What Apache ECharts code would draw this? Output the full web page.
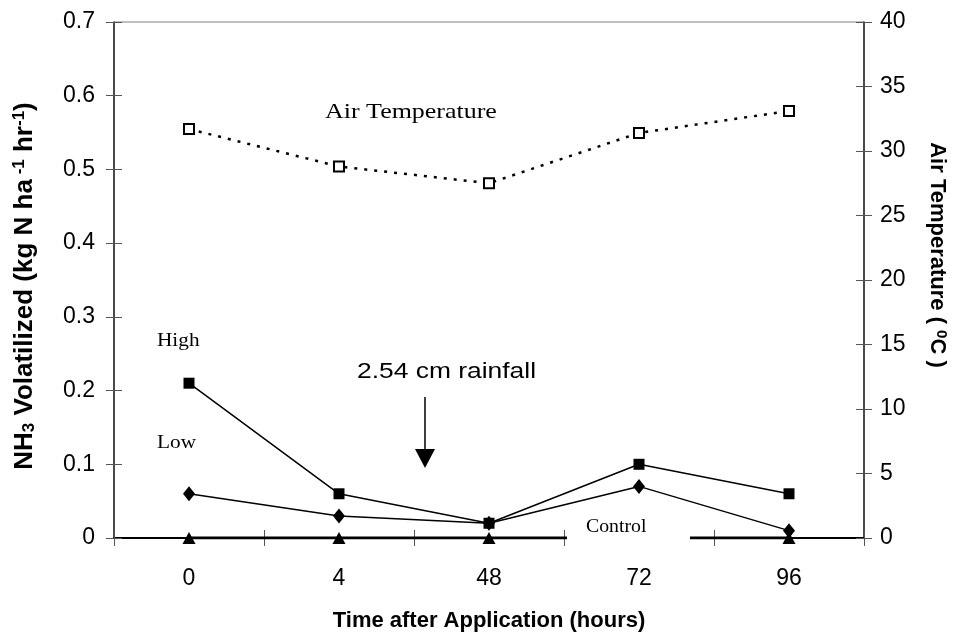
<!DOCTYPE html>
<html>
<head>
<meta charset="utf-8">
<script src="https://cdn.jsdelivr.net/npm/echarts@6/dist/echarts.min.js"></script>
<style>html,body{margin:0;padding:0;background:#fff;}#c{width:958px;height:641px;}</style>
</head>
<body>
<div id="c"></div>
<script>
const categories = ['0', '4', '48', '72', '96'];
const highValues = [0.21, 0.06, 0.02, 0.10, 0.06];
const lowValues = [0.06, 0.03, 0.02, 0.07, 0.01];
const controlValues = [0, 0, 0, 0, 0];
const airTempValues = [31.7, 28.8, 27.5, 31.4, 33.1];

const chart = echarts.init(document.getElementById('c'));
const sans = 'Liberation Sans, Arial, sans-serif';
const serif = 'Liberation Serif, Times New Roman, serif';
const grid = {left: 114, right: 94, top: 22, bottom: 103};

const option = {
  animation: false,
  backgroundColor: '#fff',
  grid: Object.assign({show: true, borderColor: '#808080', borderWidth: 1}, grid),
  xAxis: [{
    type: 'category', data: categories, boundaryGap: true, position: 'bottom',
    axisLine: {show: true, lineStyle: {color: '#000', width: 2}},
    axisTick: {show: true, length: 8, lineStyle: {color: '#555', width: 1}},
    axisLabel: {fontFamily: sans, fontSize: 23, color: '#000', margin: 29},
    name: 'Time after Application (hours)', nameLocation: 'middle', nameGap: 72,
    nameTextStyle: {fontFamily: sans, fontSize: 22, fontWeight: 'bold', color: '#000'},
    splitLine: {show: false}
  }, {
    type: 'category', data: categories, boundaryGap: true, position: 'bottom',
    axisLine: {show: false},
    axisTick: {show: true, inside: true, length: 8, lineStyle: {color: '#555', width: 1}},
    axisLabel: {show: false}, splitLine: {show: false}
  }],
  yAxis: [{
    type: 'value', min: 0, max: 0.7, interval: 0.1, position: 'left',
    axisLine: {show: true, lineStyle: {color: '#222', width: 1.5}},
    axisTick: {show: true, length: 8, lineStyle: {color: '#555', width: 1}},
    axisLabel: {fontFamily: sans, fontSize: 23, color: '#000', margin: 19},
    splitLine: {show: false},
    name: '{b|NH}{s|3}{b| Volatilized (kg N ha}{p| -1}{b| hr}{p|-1}{b|)}',
    nameLocation: 'middle', nameGap: 76, nameRotate: 90,
    nameTextStyle: {
      padding: [0, 12, 0, 0],
      rich: {
        b: {fontFamily: sans, fontSize: 26, fontWeight: 'bold', color: '#000'},
        s: {fontFamily: sans, fontSize: 17, fontWeight: 'bold', color: '#000', verticalAlign: 'bottom', padding: [10,0,0,0]},
        p: {fontFamily: sans, fontSize: 17, fontWeight: 'bold', color: '#000', verticalAlign: 'top', padding: [0,0,10,0]}
      }
    }
  }, {
    type: 'value', min: 0, max: 40, interval: 5, position: 'right',
    axisLine: {show: true, lineStyle: {color: '#222', width: 1.5}},
    axisTick: {show: true, length: 8, lineStyle: {color: '#555', width: 1}},
    axisLabel: {fontFamily: sans, fontSize: 23, color: '#000', margin: 16},
    splitLine: {show: false},
    name: '{b|Air Temperature ( }{p|0}{b|C )}',
    nameLocation: 'middle', nameGap: 62, nameRotate: -90,
    nameTextStyle: {
      padding: [0, 50, 0, 0],
      rich: {
        b: {fontFamily: sans, fontSize: 22, fontWeight: 'bold', color: '#000'},
        p: {fontFamily: sans, fontSize: 15, fontWeight: 'bold', color: '#000', verticalAlign: 'top', padding: [0,0,8,0]}
      }
    }
  }, {
    type: 'value', min: 0, max: 0.7, interval: 0.1, position: 'left',
    axisLine: {show: false},
    axisTick: {show: true, inside: true, length: 8, lineStyle: {color: '#555', width: 1}},
    axisLabel: {show: false}, splitLine: {show: false}
  }, {
    type: 'value', min: 0, max: 40, interval: 5, position: 'right',
    axisLine: {show: false},
    axisTick: {show: true, inside: true, length: 8, lineStyle: {color: '#555', width: 1}},
    axisLabel: {show: false}, splitLine: {show: false}
  }],
  series: [{
    name: 'High', type: 'line', data: highValues, yAxisIndex: 0,
    symbol: 'rect', symbolSize: 11,
    lineStyle: {color: '#000', width: 1.5}, itemStyle: {color: '#000'}, z: 5
  }, {
    name: 'Low', type: 'line', data: lowValues, yAxisIndex: 0,
    symbol: 'diamond', symbolSize: [12, 15],
    lineStyle: {color: '#000', width: 1.5}, itemStyle: {color: '#000'}, z: 5
  }, {
    name: 'Control', type: 'line', data: controlValues, yAxisIndex: 0,
    symbol: 'triangle', symbolSize: [13, 12],
    lineStyle: {color: '#000', width: 3}, itemStyle: {color: '#000'}, z: 4
  }, {
    name: 'Air Temperature', type: 'line', data: airTempValues, yAxisIndex: 1,
    symbol: 'rect', symbolSize: 10,
    lineStyle: {color: '#000', width: 2.5, type: [3, 7]},
    itemStyle: {color: '#fff', borderColor: '#000', borderWidth: 2}, z: 5
  }],
  graphic: [
    {type: 'text', x: 157, y: 332, scaleX: 1.12, z: 20, style: {text: 'High', font: '19px ' + serif, fill: '#000'}},
    {type: 'text', x: 157, y: 434, scaleX: 1.12, z: 20, style: {text: 'Low', font: '19px ' + serif, fill: '#000'}},
    {type: 'text', x: 325, y: 101, scaleX: 1.18, z: 20, style: {text: 'Air Temperature', font: '22px ' + serif, fill: '#000'}},
    {type: 'text', x: 357, y: 361, scaleX: 1.2, z: 20, style: {text: '2.54 cm rainfall', font: '22px ' + sans, fill: '#000'}},
    {type: 'line', z: 20, shape: {x1: 425, y1: 397, x2: 425, y2: 452}, style: {stroke: '#000', lineWidth: 1.5}},
    {type: 'polygon', z: 20, shape: {points: [[415, 449], [435, 449], [425, 468]]}, style: {fill: '#000'}},
    {type: 'rect', z: 30, shape: {x: 567, y: 524, width: 123, height: 26}, style: {fill: '#fff'}},
    {type: 'text', z: 31, x: 586, y: 518, scaleX: 1.1, style: {text: 'Control', font: '18px ' + serif, fill: '#000'}}
  ]
};
chart.setOption(option);
</script>
</body>
</html>
